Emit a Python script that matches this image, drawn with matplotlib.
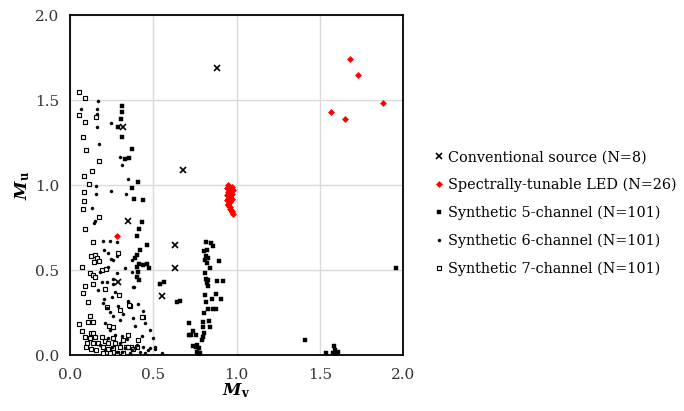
import matplotlib
matplotlib.use("Agg")
import matplotlib.pyplot as plt

plt.rcParams["font.family"] = ["DejaVu Serif"]
plt.rcParams["mathtext.fontset"] = "custom"
plt.rcParams["mathtext.rm"] = "DejaVu Serif"
plt.rcParams["mathtext.it"] = "DejaVu Serif:italic"
plt.rcParams["mathtext.bf"] = "DejaVu Serif:bold"
plt.rcParams["mathtext.bfit"] = "DejaVu Serif:bold:italic"

# Conventional sources
conv_x = [0.88, 0.32, 0.68, 0.35, 0.63, 0.63, 0.55, 0.29]
conv_y = [1.69, 1.34, 1.09, 0.79, 0.65, 0.51, 0.35, 0.43]

# Spectrally-tunable LED
led_x = [1.68, 1.73, 1.88, 1.57, 1.65, 0.28,
         0.95, 0.97, 0.94, 0.96, 0.98, 0.95, 0.97, 0.94, 0.96, 0.95,
         0.97, 0.94, 0.96, 0.95, 0.95, 0.96, 0.96, 0.97, 0.97, 0.98]
led_y = [1.74, 1.65, 1.48, 1.43, 1.39, 0.70,
         1.00, 0.99, 0.98, 0.97, 0.97, 0.96, 0.95, 0.94, 0.93, 0.92,
         0.92, 0.91, 0.90, 0.89, 0.88, 0.87, 0.86, 0.85, 0.84, 0.83]

# Synthetic 5-channel
s5_x = [0.31, 0.31, 0.305, 0.29, 0.31, 0.37, 0.355, 0.33, 0.41, 0.37, 0.385, 0.44,
        0.43, 0.415, 0.40, 0.46, 0.42, 0.40, 0.39, 0.415, 0.44, 0.46, 0.475, 0.40,
        0.41, 0.40, 0.415, 0.565, 0.54, 0.64, 0.66, 0.715, 0.715,
        0.817, 0.845, 0.857, 0.82, 0.807, 0.817, 0.827, 0.81, 0.897, 0.825, 0.84,
        0.81, 0.817, 0.827, 0.82, 0.885, 0.92, 0.83, 0.81, 0.877, 0.85, 0.905,
        0.815, 0.83, 0.86, 0.877, 0.807, 0.837, 0.80, 0.84, 0.797, 0.74, 0.727,
        0.757, 0.807, 0.80, 0.79, 0.765, 0.74, 0.757, 0.777, 0.765, 0.78, 0.777,
        1.41, 1.586, 1.59, 1.54, 1.58, 1.61, 1.60, 1.96]
s5_y = [1.465, 1.43, 1.39, 1.34, 1.28, 1.21, 1.16, 1.155, 1.02, 0.98, 0.92, 0.91,
        0.78, 0.74, 0.70, 0.65, 0.62, 0.59, 0.57, 0.535, 0.53, 0.535, 0.51, 0.52,
        0.49, 0.46, 0.44, 0.43, 0.42, 0.31, 0.32, 0.19, 0.12,
        0.667, 0.66, 0.64, 0.62, 0.61, 0.58, 0.57, 0.56, 0.553, 0.54, 0.51,
        0.484, 0.45, 0.44, 0.425, 0.437, 0.437, 0.406, 0.353, 0.36, 0.33, 0.327,
        0.31, 0.27, 0.27, 0.27, 0.25, 0.20, 0.196, 0.166, 0.166, 0.143, 0.12,
        0.118, 0.13, 0.107, 0.088, 0.06, 0.055, 0.05, 0.04, 0.02, 0.014, 0.006,
        0.09, 0.053, 0.03, 0.01, 0.01, 0.018, 0.006, 0.51]

# Synthetic 6-channel
s6_x = [0.166, 0.066, 0.162, 0.162, 0.246, 0.162, 0.172, 0.30, 0.312, 0.346, 0.156,
        0.156, 0.246, 0.336, 0.132, 0.152,
        0.146, 0.20, 0.28, 0.24, 0.204, 0.23, 0.244, 0.26, 0.33, 0.37, 0.18, 0.22,
        0.19, 0.256, 0.26, 0.384, 0.27, 0.206, 0.196, 0.35, 0.22, 0.24, 0.256, 0.30,
        0.39, 0.21, 0.24, 0.31, 0.34, 0.48, 0.497, 0.51, 0.55, 0.536, 0.377, 0.347,
        0.48, 0.51,
        0.30, 0.40, 0.44, 0.47, 0.37, 0.42, 0.25, 0.28, 0.33, 0.36, 0.21, 0.18,
        0.45, 0.39, 0.31, 0.23, 0.27, 0.17, 0.29, 0.32, 0.25, 0.28, 0.23, 0.37,
        0.28, 0.41, 0.44, 0.38, 0.43, 0.45]
s6_y = [1.494, 1.447, 1.447, 1.416, 1.363, 1.34, 1.24, 1.167, 1.118, 1.033, 0.996,
        0.947, 0.965, 0.947, 0.863, 0.788,
        0.775, 0.672, 0.663, 0.67, 0.617, 0.598, 0.563, 0.559, 0.51, 0.49, 0.49, 0.43,
        0.43, 0.445, 0.418, 0.40, 0.372, 0.327, 0.308, 0.318, 0.274, 0.255, 0.229, 0.206,
        0.17, 0.19, 0.147, 0.112, 0.092, 0.147, 0.098, 0.045, 0.01, 0.42, 0.40, 0.31,
        0.041, 0.033,
        0.07, 0.06, 0.05, 0.03, 0.03, 0.02, 0.05, 0.02, 0.04, 0.01, 0.03, 0.06,
        0.01, 0.04, 0.02, 0.10, 0.12, 0.38, 0.29, 0.24, 0.34, 0.48, 0.52, 0.56,
        0.58, 0.30, 0.26, 0.22, 0.11, 0.19]

# Synthetic 7-channel
s7_x = [0.052, 0.092, 0.056, 0.09, 0.156, 0.08, 0.096, 0.176, 0.086, 0.132, 0.112,
        0.086, 0.086, 0.08, 0.176,
        0.09, 0.136, 0.29, 0.15, 0.126, 0.164, 0.146, 0.176, 0.07, 0.12, 0.136, 0.15,
        0.19, 0.216, 0.09, 0.14, 0.21, 0.08, 0.296, 0.11, 0.30, 0.36, 0.22, 0.12,
        0.11, 0.136, 0.056, 0.437, 0.236, 0.26, 0.124, 0.14, 0.09, 0.12, 0.15, 0.19,
        0.21, 0.10, 0.14, 0.17, 0.23, 0.27, 0.096, 0.124, 0.156, 0.196, 0.226, 0.26,
        0.30, 0.336, 0.366, 0.40, 0.20, 0.24, 0.28, 0.32, 0.356, 0.432, 0.346, 0.376,
        0.26, 0.32, 0.07, 0.35, 0.41]
s7_y = [1.545, 1.514, 1.41, 1.37, 1.40, 1.28, 1.206, 1.141, 1.055, 1.082, 1.006,
        0.957, 0.908, 0.859, 0.814,
        0.74, 0.667, 0.598, 0.588, 0.585, 0.57, 0.55, 0.553, 0.52, 0.48, 0.47, 0.46,
        0.50, 0.504, 0.406, 0.418, 0.386, 0.367, 0.353, 0.314, 0.265, 0.288, 0.284, 0.229,
        0.196, 0.196, 0.18, 0.225, 0.17, 0.163, 0.131, 0.128, 0.104, 0.10, 0.105, 0.108,
        0.085, 0.072, 0.069, 0.07, 0.069, 0.069, 0.045, 0.035, 0.03, 0.045, 0.035, 0.04,
        0.045, 0.045, 0.045, 0.048, 0.01, 0.01, 0.012, 0.012, 0.292, 0.224, 0.048, 0.038,
        0.10, 0.09, 0.14, 0.12, 0.09]

labels = ["Conventional source (N=8)", "Spectrally-tunable LED (N=26)",
          "Synthetic 5-channel (N=101)", "Synthetic 6-channel (N=101)",
          "Synthetic 7-channel (N=101)"]

fig = plt.figure(figsize=(6.84, 4.11), dpi=100)
ax = fig.add_axes([70 / 684, 1 - 355 / 411, 333 / 684, 340 / 411])

ax.plot(conv_x, conv_y, ls="none", marker="x", ms=4.5, mew=1.2, color="black",
        label=labels[0], zorder=5)
ax.plot(led_x, led_y, ls="none", marker="D", ms=3.0, mew=0.5, color="#ff0000",
        label=labels[1], zorder=6)
ax.plot(s5_x, s5_y, ls="none", marker="s", ms=3.0, mew=0.3, color="black",
        label=labels[2], zorder=4)
ax.plot(s6_x, s6_y, ls="none", marker="o", ms=2.2, mew=0.3, color="black",
        label=labels[3], zorder=4)
ax.plot(s7_x, s7_y, ls="none", marker="s", ms=3.0, mew=0.85, mfc="white",
        mec="black", label=labels[4], zorder=3)

ax.set_xlim(0, 2)
ax.set_ylim(0, 2)
ax.set_xticks([0, 0.5, 1.0, 1.5, 2.0])
ax.set_yticks([0, 0.5, 1.0, 1.5, 2.0])
ax.set_xticklabels(["0.0", "0.5", "1.0", "1.5", "2.0"])
ax.set_yticklabels(["0.0", "0.5", "1.0", "1.5", "2.0"])
ax.tick_params(axis="x", length=0, labelsize=11, colors="#333333", pad=9)
ax.tick_params(axis="y", length=0, labelsize=11, colors="#333333", pad=8)
ax.grid(True, color="#d9d9d9", lw=1.0)
ax.set_axisbelow(True)
for s in ax.spines.values():
    s.set_linewidth(1.3)
    s.set_color("black")

ax.set_xlabel(r"$\mathbfit{M}_\mathbf{v}$", fontsize=12, labelpad=0)
ax.set_ylabel(r"$\mathbfit{M}_\mathbf{u}$", fontsize=12, labelpad=2)

fig.legend(loc="center left", bbox_to_anchor=(429 / 684, 1 - 213 / 411),
           frameon=False, fontsize=10.4, handlelength=0.6, handletextpad=0.3,
           labelspacing=0.93, borderaxespad=0)

fig.savefig("out.png", dpi=100)
